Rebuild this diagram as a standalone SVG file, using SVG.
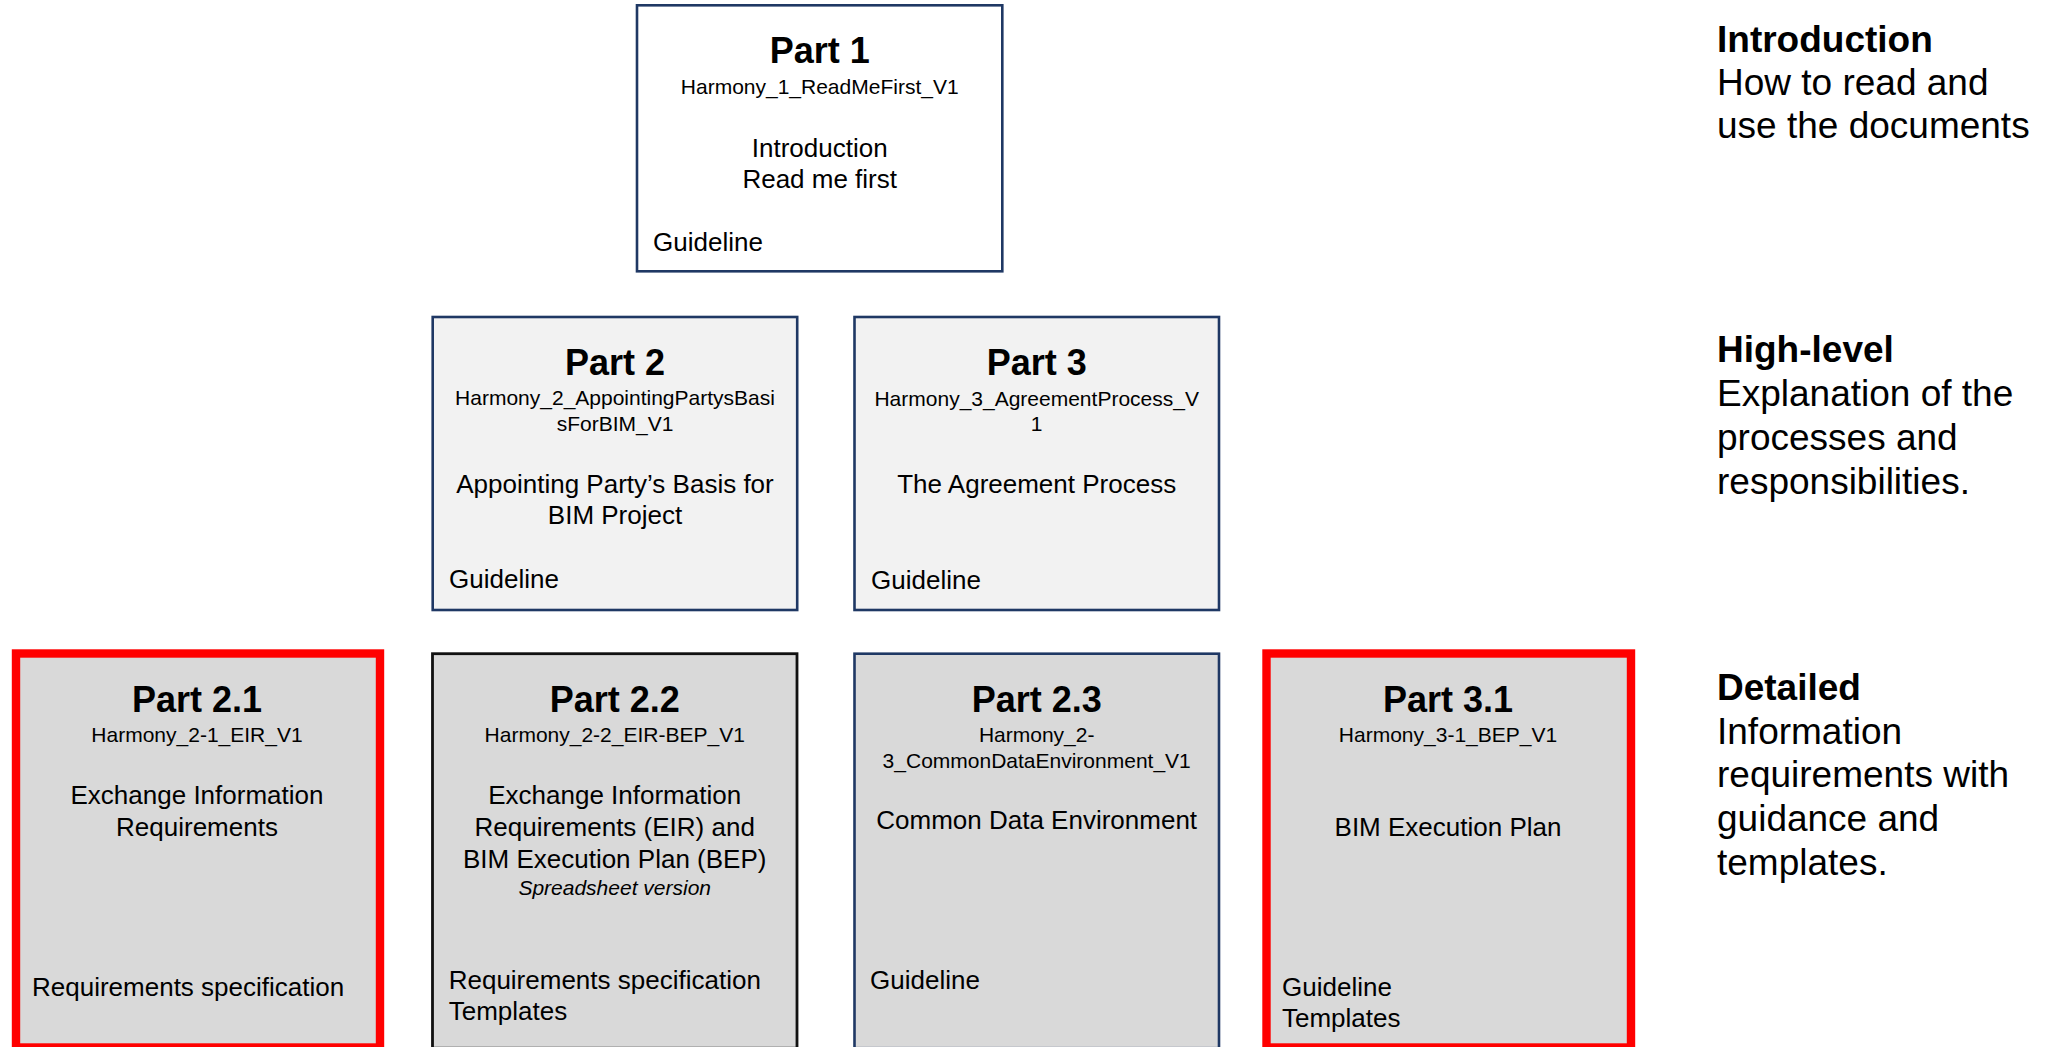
<svg xmlns="http://www.w3.org/2000/svg" width="2052" height="1047" viewBox="0 0 2052 1047">
<style>
text{font-family:"Liberation Sans",Arial,Helvetica,sans-serif;fill:#000}
.t{font-size:36px;font-weight:bold;text-anchor:middle}
.f{font-size:21px;text-anchor:middle}
.d{font-size:26px;text-anchor:middle}
.i{font-size:21px;font-style:italic;text-anchor:middle}
.l{font-size:26px}
.s{font-size:37px}
.sb{font-size:37px;font-weight:bold}
.navy{stroke:#1F3864;stroke-width:2.6}
.blk{stroke:#111111;stroke-width:2.8}
.red{stroke:#FF0000;stroke-width:8.4}
.w{fill:#FFFFFF}
.g1{fill:#F2F2F2}
.g2{fill:#D9D9D9}
</style>
<rect width="2052" height="1047" fill="#FFFFFF"/>
<g id="connectors"/>
<g id="part1">
<rect class="w navy" x="637" y="5.3" width="365.3" height="266"/>
<text class="t" x="819.7" y="63">Part 1</text>
<text class="f" x="819.7" y="94">Harmony_1_ReadMeFirst_V1</text>
<text class="d" x="819.7" y="157">Introduction</text>
<text class="d" x="819.7" y="188">Read me first</text>
<text class="l" x="653" y="251">Guideline</text>
</g>
<g id="part2">
<rect class="g1 navy" x="432.7" y="317" width="364.5" height="293"/>
<text class="t" x="615" y="375">Part 2</text>
<text class="f" x="615" y="405">Harmony_2_AppointingPartysBasi</text>
<text class="f" x="615" y="431">sForBIM_V1</text>
<text class="d" x="615" y="493">Appointing Party’s Basis for</text>
<text class="d" x="615" y="524">BIM Project</text>
<text class="l" x="449" y="588">Guideline</text>
</g>
<g id="part3">
<rect class="g1 navy" x="854.5" y="317" width="364.5" height="293"/>
<text class="t" x="1036.7" y="375">Part 3</text>
<text class="f" x="1036.7" y="406">Harmony_3_AgreementProcess_V</text>
<text class="f" x="1036.7" y="431">1</text>
<text class="d" x="1036.7" y="493">The Agreement Process</text>
<text class="l" x="871" y="589">Guideline</text>
</g>
<g id="part2-1">
<rect class="g2 red" x="16" y="653.5" width="364" height="394"/>
<text class="t" x="197" y="712">Part 2.1</text>
<text class="f" x="197" y="742">Harmony_2-1_EIR_V1</text>
<text class="d" x="197" y="804">Exchange Information</text>
<text class="d" x="197" y="836">Requirements</text>
<text class="l" x="32" y="996">Requirements specification</text>
</g>
<g id="part2-2">
<rect class="g2 blk" x="432.5" y="653.7" width="364.5" height="394.5"/>
<text class="t" x="614.7" y="712">Part 2.2</text>
<text class="f" x="614.7" y="742">Harmony_2-2_EIR-BEP_V1</text>
<text class="d" x="614.7" y="804">Exchange Information</text>
<text class="d" x="614.7" y="836">Requirements (EIR) and</text>
<text class="d" x="614.7" y="868">BIM Execution Plan (BEP)</text>
<text class="i" x="614.7" y="895">Spreadsheet version</text>
<text class="l" x="448.7" y="989">Requirements specification</text>
<text class="l" x="448.7" y="1020">Templates</text>
</g>
<g id="part2-3">
<rect class="g2 navy" x="854.5" y="653.7" width="364.5" height="394.5"/>
<text class="t" x="1036.7" y="712">Part 2.3</text>
<text class="f" x="1036.7" y="742">Harmony_2-</text>
<text class="f" x="1036.7" y="768">3_CommonDataEnvironment_V1</text>
<text class="d" x="1036.7" y="829">Common Data Environment</text>
<text class="l" x="870" y="989">Guideline</text>
</g>
<g id="part3-1">
<rect class="g2 red" x="1266.5" y="653.5" width="364.5" height="394"/>
<text class="t" x="1448" y="712">Part 3.1</text>
<text class="f" x="1448" y="742">Harmony_3-1_BEP_V1</text>
<text class="d" x="1448" y="836">BIM Execution Plan</text>
<text class="l" x="1282" y="996">Guideline</text>
<text class="l" x="1282" y="1027">Templates</text>
</g>
<g id="legend-introduction">
<text class="sb" x="1717" y="52">Introduction</text>
<text class="s" x="1717" y="95">How to read and</text>
<text class="s" x="1717" y="138">use the documents</text>
</g>
<g id="legend-high-level">
<text class="sb" x="1717" y="362">High-level</text>
<text class="s" x="1717" y="406">Explanation of the</text>
<text class="s" x="1717" y="450">processes and</text>
<text class="s" x="1717" y="494">responsibilities.</text>
</g>
<g id="legend-detailed">
<text class="sb" x="1717" y="700">Detailed</text>
<text class="s" x="1717" y="743.5">Information</text>
<text class="s" x="1717" y="787">requirements with</text>
<text class="s" x="1717" y="831">guidance and</text>
<text class="s" x="1717" y="875">templates.</text>
</g>
</svg>
